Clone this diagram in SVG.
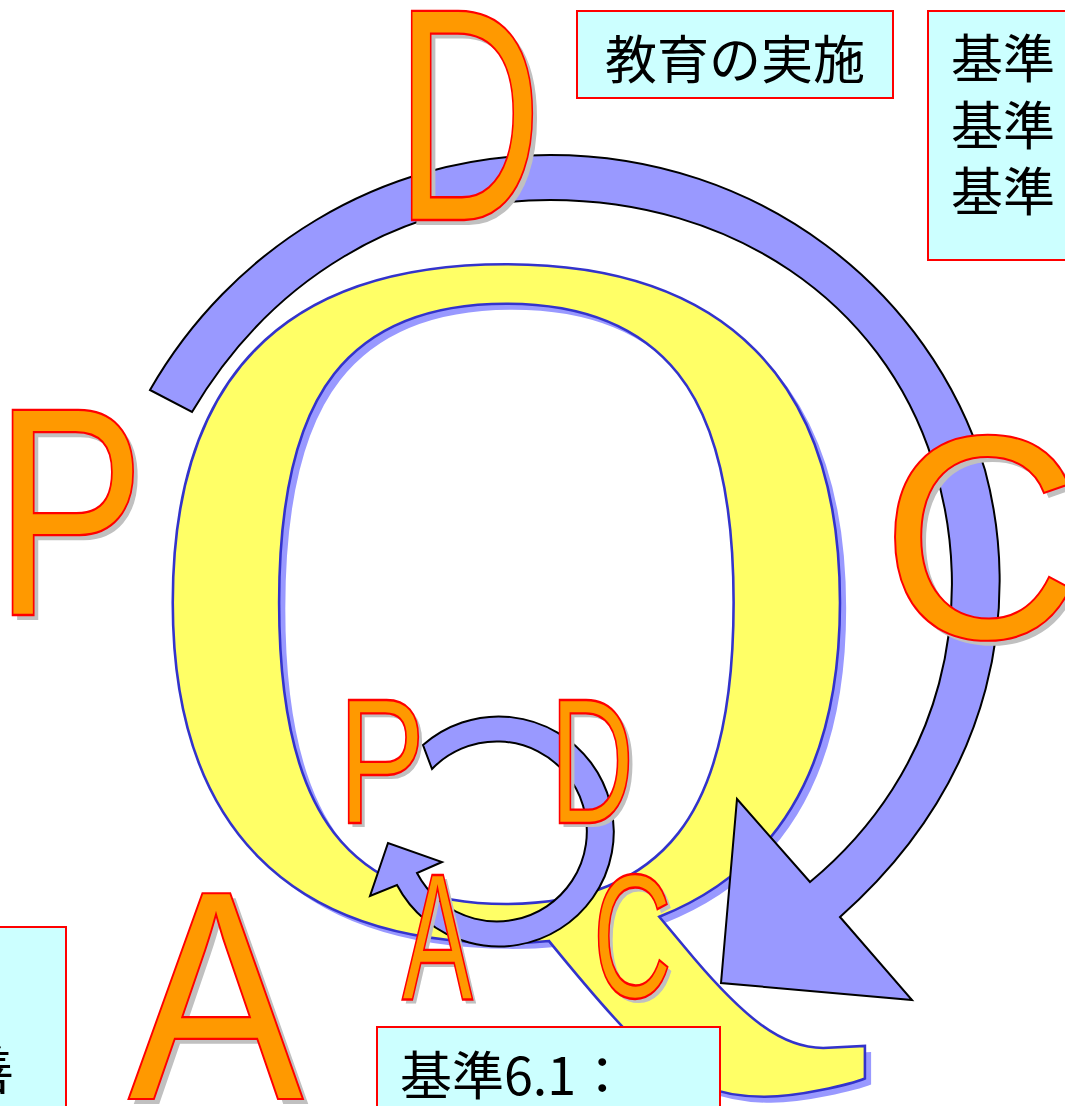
<svg xmlns="http://www.w3.org/2000/svg" width="1065" height="1106" viewBox="0 0 1065 1106">
<style>
.box{fill:#CCFFFF;stroke:#FF0000;stroke-width:2}
.bt{font-family:"Noto Sans CJK JP","Noto Sans CJK SC",sans-serif;font-size:52px;fill:#000}
.let{font-family:"Liberation Sans",Arial,sans-serif;fill:#FF9900;stroke:#FF0000;stroke-width:2;vector-effect:non-scaling-stroke}
.sh{font-family:"Liberation Sans",Arial,sans-serif;fill:#C0C0C0}
.arc{fill:#9999FF;stroke:#000;stroke-width:2;stroke-linejoin:miter}
.q{font-family:"Liberation Serif","Times New Roman",serif;font-size:1010px}
</style>
<rect width="1065" height="1106" fill="#FFFFFF"/>
<g id="Q" transform="translate(130,933) scale(1.032,1)">
  <text class="q" x="6" y="6" fill="#9999FF">Q</text>
  <text class="q" fill="#FFFF66" stroke="#3333CC" stroke-width="2.5">Q</text>
</g>
<g id="connectors">
  <path id="big-cycle" class="arc" d="M150,390 C230,250 380,155 550,155 C760,155 930,290 985,470 C1020,600 1000,775 840,917 L912,1000 L721,983 L737,799 L810,882 C945,770 978,605 933,462 C882,300 730,200 550,200 C400,200 270,280 192,412 Z"/>
  <path id="small-cycle" class="arc" d="M423,745 A115,115 0 1 1 397,885 L370,896 L388,843 L442,862 L417,873 A90,90 0 1 0 432,769 Z"/>
</g>
<g id="letter-D" transform="translate(395,220) scale(0.67,1)">
  <text class="sh" x="7" y="5" font-size="304">D</text>
  <text class="let" font-size="304">D</text>
</g>
<g id="letter-P" transform="translate(-6,615) scale(0.76,1)">
  <text class="sh" x="6" y="5" font-size="298">P</text>
  <text class="let" font-size="298">P</text>
</g>
<g id="letter-C" transform="translate(881,638) scale(0.95,1)">
  <text class="sh" x="5" y="5" font-size="291">C</text>
  <text class="let" font-size="291">C</text>
</g>
<g id="letter-A" transform="translate(128,1099) scale(0.88,1)">
  <text class="sh" x="6" y="5" font-size="299">A</text>
  <text class="let" font-size="299">A</text>
</g>
<g id="small-P" transform="translate(338,823) scale(0.73,1)">
  <text class="sh" x="5" y="4" font-size="179">P</text>
  <text class="let" font-size="179">P</text>
</g>
<g id="small-D" transform="translate(550,823) scale(0.65,1)">
  <text class="sh" x="6" y="4" font-size="179">D</text>
  <text class="let" font-size="179">D</text>
</g>
<g id="small-A" transform="translate(402,999) scale(0.59,1)">
  <text class="sh" x="6" y="4" font-size="180">A</text>
  <text class="let" font-size="180">A</text>
</g>
<g id="small-C" transform="translate(593,997) scale(0.62,1)">
  <text class="sh" x="6" y="4" font-size="176">C</text>
  <text class="let" font-size="176">C</text>
</g>
<g id="box-jisshi">
  <rect class="box" x="577" y="11" width="316" height="87"/>
  <text class="bt" x="735" y="79" text-anchor="middle">教育の実施</text>
</g>
<g id="box-kijun">
  <rect class="box" x="928" y="11" width="150" height="249"/>
  <text class="bt" x="951" y="78">基準</text>
  <text class="bt" x="951" y="145">基準</text>
  <text class="bt" x="951" y="211">基準</text>
</g>
<g id="box-kaizen">
  <rect class="box" x="-10" y="927" width="76" height="190"/>
  <text class="bt" x="14" y="1090" text-anchor="end">善</text>
</g>
<g id="box-kijun61">
  <rect class="box" x="377" y="1027" width="343" height="90"/>
  <text class="bt" x="400" y="1095">基準6.1：</text>
</g>
</svg>
